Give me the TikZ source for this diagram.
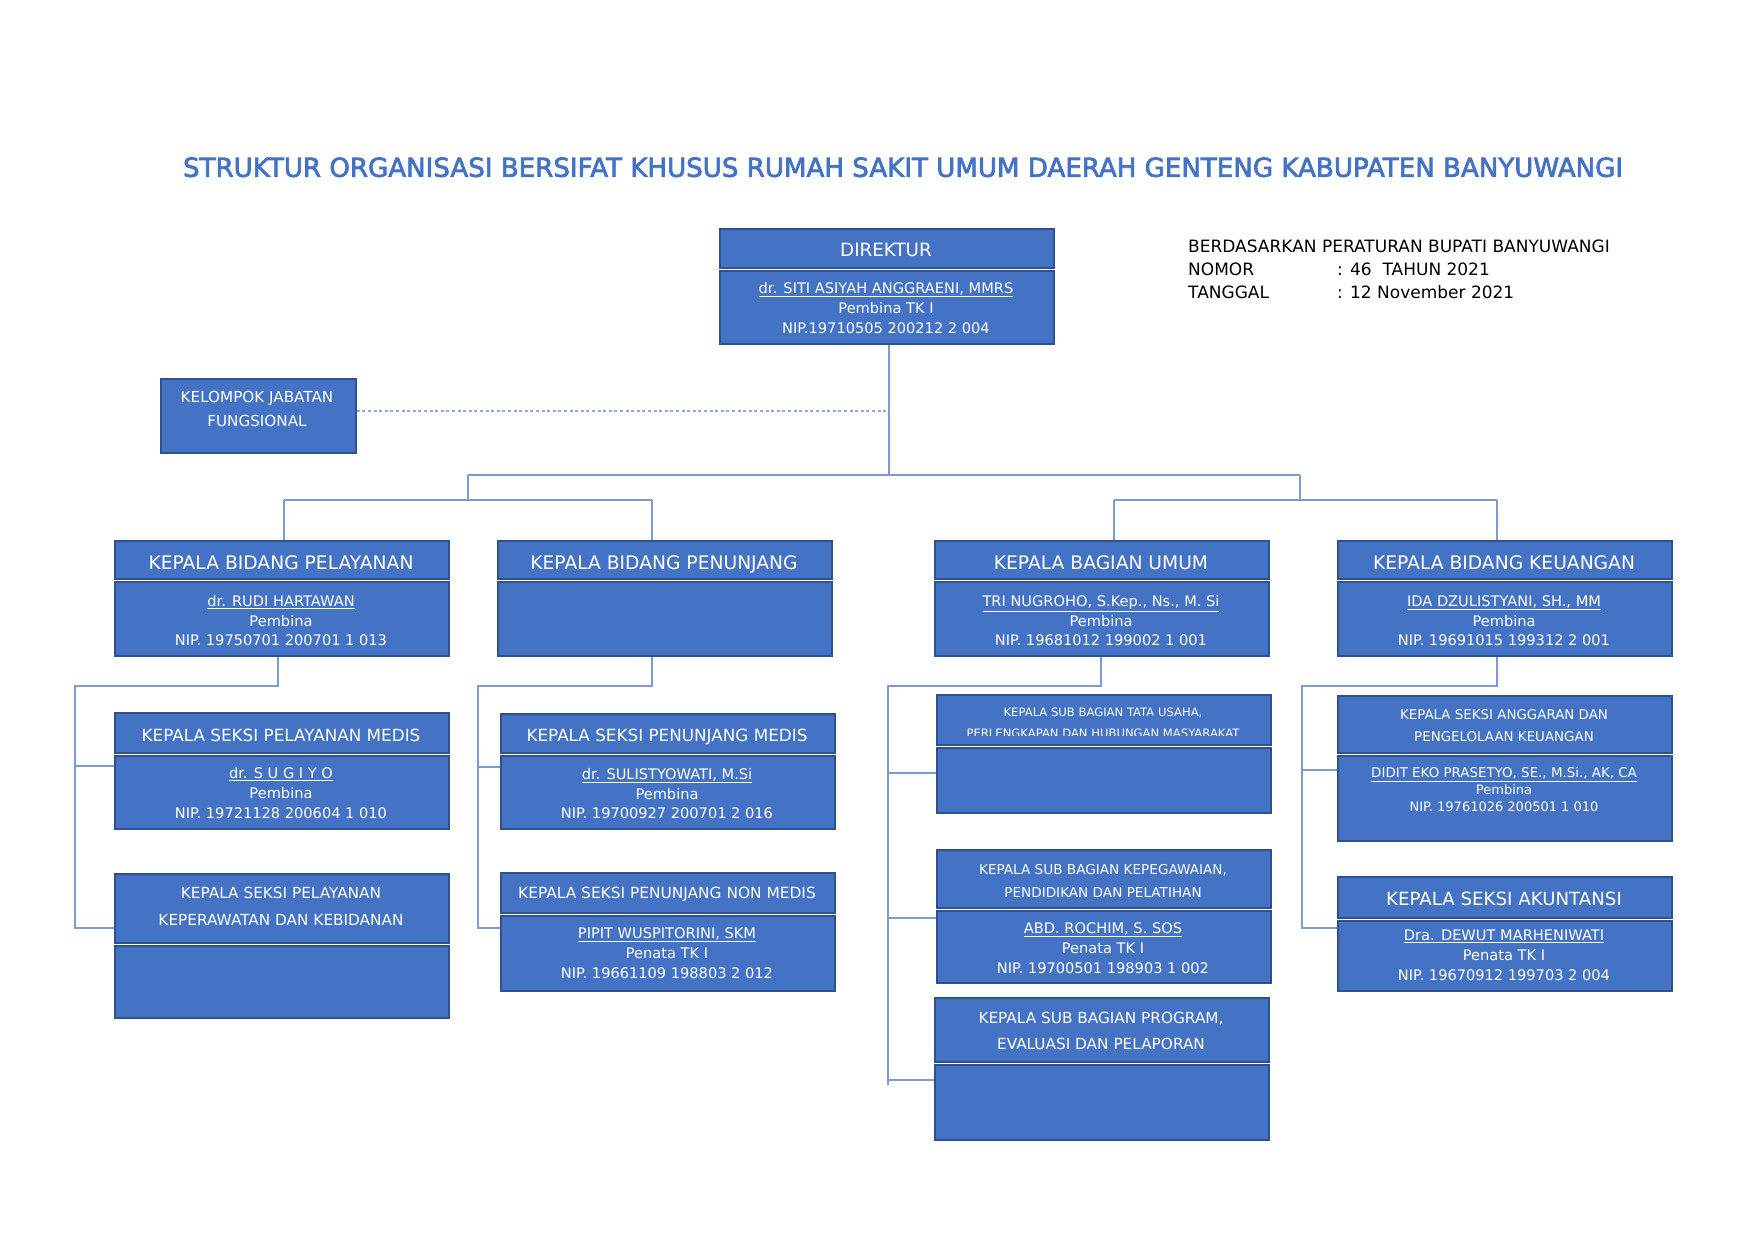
\documentclass[tikz,border=0pt]{standalone}
\usepackage{fontspec}
\setmainfont{DejaVu Sans}
\newfontfamily\titlefont[FakeBold=2.6]{DejaVu Sans}
\definecolor{boxfill}{HTML}{4472C4}
\definecolor{boxline}{HTML}{2F528F}
\definecolor{connc}{HTML}{7E9AD2}
\definecolor{dashc}{HTML}{8FA8D8}
\definecolor{titlec}{HTML}{4472C4}
\newcommand{\fsz}[1]{\fontsize{#1}{#1}\selectfont}
\begin{document}
\begin{tikzpicture}[x=1pt,y=-1pt,
  bx/.style={draw=boxline, fill=boxfill, line width=1.8pt, inner sep=0pt, anchor=north west, minimum width=334pt},
  wt/.style={text=white, inner sep=0pt, anchor=base},
  bk/.style={text=black, inner sep=0pt, anchor=base west, font=\fsz{17.0}},
  cn/.style={draw=connc, line width=1.3pt},
  dl/.style={draw=dashc, line width=1.8pt, dash pattern=on 3pt off 2.6pt},
]
\useasboundingbox (0,0) rectangle (1755,1241);
\fill[white] (0,0) rectangle (1755,1241);

% ---------- boxes ----------
\node[bx, minimum height=39pt] (dirh) at (719,228) {};
\node[bx, minimum height=73pt] (dirb) at (719,270) {};
\node[bx, minimum width=195pt, minimum height=74pt] (kjf) at (160,378) {};

\node[bx, minimum height=38pt] (pelh) at (114,540) {};
\node[bx, minimum height=74pt] (pelb) at (114,581) {};
\node[bx, minimum height=38pt] (penh) at (497,540) {};
\node[bx, minimum height=74pt] (penb) at (497,581) {};
\node[bx, minimum height=38pt] (umuh) at (934,540) {};
\node[bx, minimum height=74pt] (umub) at (934,581) {};
\node[bx, minimum height=38pt] (keuh) at (1337,540) {};
\node[bx, minimum height=74pt] (keub) at (1337,581) {};

\node[bx, minimum height=40pt] (spmh) at (114,712) {};
\node[bx, minimum height=73pt] (spmb) at (114,755) {};
\node[bx, minimum height=69pt] (spkh) at (114,873) {};
\node[bx, minimum height=72pt] (spkb) at (114,945) {};

\node[bx, minimum height=39pt] (snmh) at (500,713) {};
\node[bx, minimum height=73pt] (snmb) at (500,755) {};
\node[bx, minimum height=40pt] (snnh) at (500,872) {};
\node[bx, minimum height=75pt] (snnb) at (500,915) {};

\node[bx, minimum height=50pt] (tuh) at (936,694) {};
\node[bx, minimum height=65pt] (tub) at (936,747) {};
\node[bx, minimum height=58pt] (kph) at (936,849) {};
\node[bx, minimum height=72pt] (kpb) at (936,910) {};
\node[bx, minimum height=64pt] (prh) at (934,997) {};
\node[bx, minimum height=75pt] (prb) at (934,1064) {};

\node[bx, minimum height=57pt] (agh) at (1337,695) {};
\node[bx, minimum height=85pt] (agb) at (1337,755) {};
\node[bx, minimum height=41pt] (akh) at (1337,876) {};
\node[bx, minimum height=70pt] (akb) at (1337,920) {};

% ---------- connectors ----------
\coordinate (c0) at (889,475);
\coordinate (cL) at (468,475);
\coordinate (cR) at (1300,475);
\coordinate (cL2) at (468,500);
\coordinate (cR2) at (1300,500);
\coordinate (pelT) at (284,500);
\coordinate (penT) at (652,500);
\coordinate (umuT) at (1114,500);
\coordinate (keuT) at (1497,500);
\coordinate (dj) at (889,411);

\draw[cn] (dirb.south -| c0) -- (c0);
\draw[cn] (cL) -- (cR);
\draw[cn] (cL) -- (cL2);
\draw[cn] (cR) -- (cR2);
\draw[cn] (pelT) -- (penT);
\draw[cn] (umuT) -- (keuT);
\draw[cn] (pelT) -- (pelh.north -| pelT);
\draw[cn] (penT) -- (penh.north -| penT);
\draw[cn] (umuT) -- (umuh.north -| umuT);
\draw[cn] (keuT) -- (keuh.north -| keuT);
\draw[dl] (kjf.east |- dj) -- (dj);

\coordinate (pl1) at (278,686);
\coordinate (pl2) at (75,686);
\coordinate (pl3) at (75,928);
\coordinate (pl4) at (75,766);
\draw[cn] (pelb.south -| pl1) -- (pl1) -- (pl2) -- (pl3) -- (spkh.west |- pl3);
\draw[cn] (pl4) -- (spmb.west |- pl4);

\coordinate (pn1) at (652,686);
\coordinate (pn2) at (478,686);
\coordinate (pn3) at (478,928);
\coordinate (pn4) at (478,767);
\draw[cn] (penb.south -| pn1) -- (pn1) -- (pn2) -- (pn3) -- (snnb.west |- pn3);
\draw[cn] (pn4) -- (snmb.west |- pn4);

\coordinate (um1) at (1101,686);
\coordinate (um2) at (888,686);
\coordinate (um3) at (888,1085);
\coordinate (um4) at (888,773);
\coordinate (um5) at (888,918);
\coordinate (um6) at (888,1080);
\draw[cn] (umub.south -| um1) -- (um1) -- (um2) -- (um3);
\draw[cn] (um4) -- (tub.west |- um4);
\draw[cn] (um5) -- (kpb.west |- um5);
\draw[cn] (um6) -- (prb.west |- um6);

\coordinate (ku1) at (1497,686);
\coordinate (ku2) at (1302,686);
\coordinate (ku3) at (1302,928);
\coordinate (ku4) at (1302,770);
\draw[cn] (keub.south -| ku1) -- (ku1) -- (ku2) -- (ku3) -- (akh.west |- ku3);
\draw[cn] (ku4) -- (agb.west |- ku4);

% ---------- title and reference ----------
\node[anchor=base, inner sep=0pt, text=titlec, font=\titlefont\fsz{26.1}] (title) at (903,176.8) {STRUKTUR ORGANISASI BERSIFAT KHUSUS RUMAH SAKIT UMUM DAERAH GENTENG KABUPATEN BANYUWANGI};
\node[bk] (r1) at (1188,252.2) {BERDASARKAN PERATURAN BUPATI BANYUWANGI};
\node[bk] (r2) at (1188,275.2) {NOMOR};
\node[bk] (r2b) at (1337,275.2) {: 46\ \ TAHUN 2021};
\node[bk] (r3) at (1188,298.2) {TANGGAL};
\node[bk] (r3b) at (1337,298.2) {: 12 November 2021};

% ---------- box texts ----------
\node[wt, font=\fsz{18.3}] (t-dir) at (886,256.7) {DIREKTUR};
\node[wt, font=\fsz{14.6}] (t-dir1) at (886,293.3) {\underline{dr. SITI ASIYAH ANGGRAENI, MMRS}};
\node[wt, font=\fsz{14.6}] (t-dir2) at (886,313.3) {Pembina TK I};
\node[wt, font=\fsz{14.6}] (t-dir3) at (886,333.3) {NIP.19710505 200212 2 004};

\node[wt, font=\fsz{15.2}] (t-kjf1) at (257,402.5) {KELOMPOK JABATAN};
\node[wt, font=\fsz{15.2}] (t-kjf2) at (257,426.5) {FUNGSIONAL};

\node[wt, font=\fsz{18.7}] (t-pel) at (281,569.7) {KEPALA BIDANG PELAYANAN};
\node[wt, font=\fsz{14.6}] (t-pel1) at (281,606.3) {\underline{dr. RUDI HARTAWAN}};
\node[wt, font=\fsz{14.6}] (t-pel2) at (281,626.3) {Pembina};
\node[wt, font=\fsz{14.6}] (t-pel3) at (281,645.3) {NIP. 19750701 200701 1 013};

\node[wt, font=\fsz{18.7}] (t-pen) at (664,569.7) {KEPALA BIDANG PENUNJANG};

\node[wt, font=\fsz{18.7}] (t-umu) at (1101,569.7) {KEPALA BAGIAN UMUM};
\node[wt, font=\fsz{14.6}] (t-umu1) at (1101,606.3) {\underline{TRI NUGROHO, S.Kep., Ns., M. Si}};
\node[wt, font=\fsz{14.6}] (t-umu2) at (1101,626.3) {Pembina};
\node[wt, font=\fsz{14.6}] (t-umu3) at (1101,645.3) {NIP. 19681012 199002 1 001};

\node[wt, font=\fsz{18.7}] (t-keu) at (1504,569.7) {KEPALA BIDANG KEUANGAN};
\node[wt, font=\fsz{14.6}] (t-keu1) at (1504,606.3) {\underline{IDA DZULISTYANI, SH., MM}};
\node[wt, font=\fsz{14.6}] (t-keu2) at (1504,626.3) {Pembina};
\node[wt, font=\fsz{14.6}] (t-keu3) at (1504,645.3) {NIP. 19691015 199312 2 001};

\node[wt, font=\fsz{16.8}] (t-spm) at (281,741.1) {KEPALA SEKSI PELAYANAN MEDIS};
\node[wt, font=\fsz{14.6}] (t-spm1) at (281,778.3) {\underline{dr. S U G I Y O}};
\node[wt, font=\fsz{14.6}] (t-spm2) at (281,798.3) {Pembina};
\node[wt, font=\fsz{14.6}] (t-spm3) at (281,818.3) {NIP. 19721128 200604 1 010};

\node[wt, font=\fsz{15.3}] (t-spk1) at (281,898.6) {KEPALA SEKSI PELAYANAN};
\node[wt, font=\fsz{15.3}] (t-spk2) at (281,925.6) {KEPERAWATAN DAN KEBIDANAN};

\node[wt, font=\fsz{16.8}] (t-snm) at (667,741.1) {KEPALA SEKSI PENUNJANG MEDIS};
\node[wt, font=\fsz{14.6}] (t-snm1) at (667,779.3) {\underline{dr. SULISTYOWATI, M.Si}};
\node[wt, font=\fsz{14.6}] (t-snm2) at (667,799.3) {Pembina};
\node[wt, font=\fsz{14.6}] (t-snm3) at (667,818.3) {NIP. 19700927 200701 2 016};

\node[wt, font=\fsz{15.4}] (t-snn) at (667,898.6) {KEPALA SEKSI PENUNJANG NON MEDIS};
\node[wt, font=\fsz{14.6}] (t-snn1) at (667,938.3) {\underline{PIPIT WUSPITORINI, SKM}};
\node[wt, font=\fsz{14.6}] (t-snn2) at (667,958.3) {Penata TK I};
\node[wt, font=\fsz{14.6}] (t-snn3) at (667,978.3) {NIP. 19661109 198803 2 012};

\node[wt, font=\fsz{11.6}] (t-tu1) at (1103,716.2) {KEPALA SUB BAGIAN TATA USAHA,};
\begin{scope}
\clip (936,694) rectangle (1270,735.5);
\node[wt, font=\fsz{11.6}] (t-tu2) at (1103,737.2) {PERLENGKAPAN DAN HUBUNGAN MASYARAKAT};
\end{scope}

\node[wt, font=\fsz{13.6}] (t-kp1) at (1103,874) {KEPALA SUB BAGIAN KEPEGAWAIAN,};
\node[wt, font=\fsz{13.6}] (t-kp2) at (1103,897) {PENDIDIKAN DAN PELATIHAN};
\node[wt, font=\fsz{14.6}] (t-kp3) at (1103,933.3) {\underline{ABD. ROCHIM, S. SOS}};
\node[wt, font=\fsz{14.6}] (t-kp4) at (1103,953.3) {Penata TK I};
\node[wt, font=\fsz{14.6}] (t-kp5) at (1103,973.3) {NIP. 19700501 198903 1 002};

\node[wt, font=\fsz{15.3}] (t-pr1) at (1101,1023.6) {KEPALA SUB BAGIAN PROGRAM,};
\node[wt, font=\fsz{15.3}] (t-pr2) at (1101,1049.6) {EVALUASI DAN PELAPORAN};

\node[wt, font=\fsz{13.4}] (t-ag1) at (1504,719.9) {KEPALA SEKSI ANGGARAN DAN};
\node[wt, font=\fsz{13.4}] (t-ag2) at (1504,741.9) {PENGELOLAAN KEUANGAN};
\node[wt, font=\fsz{13.4}] (t-ag3) at (1504,777.9) {\underline{DIDIT EKO PRASETYO, SE., M.Si., AK, CA}};
\node[wt, font=\fsz{13.0}] (t-ag4) at (1504,794.7) {Pembina};
\node[wt, font=\fsz{13.0}] (t-ag5) at (1504,811.7) {NIP. 19761026 200501 1 010};

\node[wt, font=\fsz{18.2}] (t-ak) at (1504,905.6) {KEPALA SEKSI AKUNTANSI};
\node[wt, font=\fsz{14.6}] (t-ak1) at (1504,940.3) {\underline{Dra. DEWUT MARHENIWATI}};
\node[wt, font=\fsz{14.6}] (t-ak2) at (1504,960.3) {Penata TK I};
\node[wt, font=\fsz{14.6}] (t-ak3) at (1504,980.3) {NIP. 19670912 199703 2 004};
\end{tikzpicture}
\end{document}
